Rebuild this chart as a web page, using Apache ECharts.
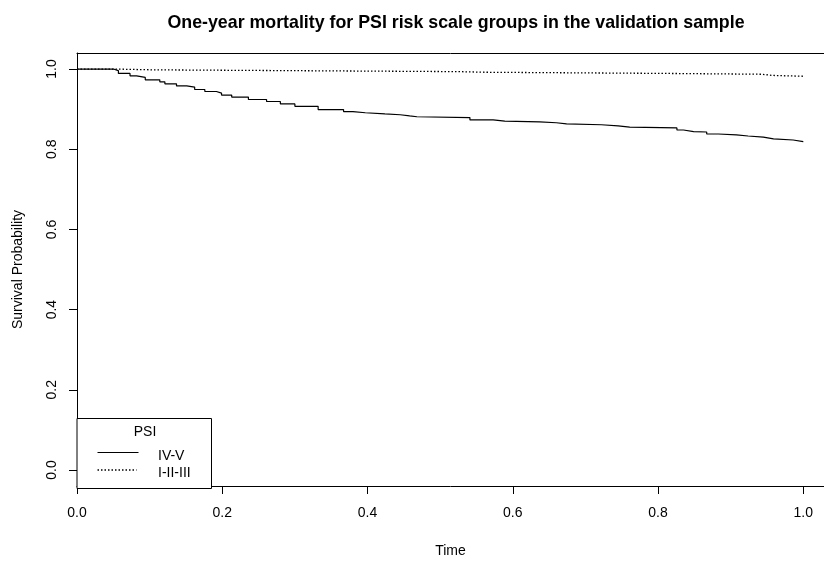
<!DOCTYPE html>
<html>
<head>
<meta charset="utf-8">
<script src="https://cdn.jsdelivr.net/npm/echarts@6/dist/echarts.min.js"></script>
<style>
  html, body { margin: 0; padding: 0; background: #fff; }
  #main { width: 824px; height: 563px; }
</style>
</head>
<body>
<div id="main"></div>
<script>
// Kaplan-Meier steps
var ivTime = [0, 0.050, 0.057, 0.073, 0.082, 0.094, 0.114, 0.121, 0.137, 0.151, 0.162, 0.176, 0.192, 0.199,
  0.213, 0.236, 0.261, 0.280, 0.300, 0.332, 0.367, 0.380, 0.397, 0.424, 0.445, 0.458, 0.468, 0.541,
  0.573, 0.589, 0.637, 0.660, 0.674, 0.722, 0.745, 0.761, 0.826, 0.835, 0.849, 0.867, 0.883, 0.908,
  0.924, 0.945, 0.959, 0.986, 1.0];
var ivSurv = [1.0, 0.996, 0.989, 0.983, 0.979, 0.973, 0.968, 0.963, 0.958, 0.955, 0.949, 0.944, 0.940, 0.935,
  0.930, 0.924, 0.919, 0.913, 0.907, 0.899, 0.894, 0.891, 0.888, 0.886, 0.883, 0.881, 0.879, 0.873,
  0.870, 0.868, 0.866, 0.863, 0.861, 0.858, 0.855, 0.853, 0.848, 0.844, 0.843, 0.838, 0.836, 0.833,
  0.830, 0.826, 0.823, 0.819, 0.819];
var lowTime = [0, 0.050, 0.105, 0.527, 0.562, 0.814, 0.943, 0.958, 1.0];
var lowSurv = [1.0, 0.998, 0.9935, 0.992, 0.989, 0.987, 0.984, 0.982, 0.982];
var tickValues = [0, 0.2, 0.4, 0.6, 0.8, 1.0];

function pairs(t, s) {
  var out = [];
  for (var i = 0; i < t.length; i++) out.push([t[i], s[i]]);
  return out;
}

var font = 'Liberation Sans, Arial, Helvetica, sans-serif';
var chart = echarts.init(document.getElementById('main'));

var option = {
  backgroundColor: '#fff',
  animation: false,
  title: {
    text: 'One-year mortality for PSI risk scale groups in the validation sample',
    left: 451,
    textAlign: 'center',
    top: 9,
    textStyle: { fontFamily: font, fontSize: 17.8, fontWeight: 'bold', color: '#000' }
  },
  // right edge of the box runs off the page, so the grid reaches the edge
  grid: {
    left: 77,
    top: 53,
    width: 747,
    height: 436
  },
  xAxis: [{
    type: 'value',
    min: 0,
    max: 1.0285,
    name: 'Time',
    nameLocation: 'middle',
    nameGap: 58,
    nameTextStyle: { fontFamily: font, fontSize: 14, color: '#000' },
    axisLine: { show: true, onZero: false, lineStyle: { color: '#000', width: 1 } },
    splitLine: { show: false },
    axisTick: { show: true, inside: false, length: 8, customValues: tickValues, lineStyle: { color: '#000' } },
    axisLabel: {
      customValues: tickValues,
      margin: 20,
      fontFamily: font, fontSize: 14, color: '#000',
      formatter: function (v) { return v.toFixed(1); }
    }
  }, {
    type: 'value',
    position: 'top',
    min: 0,
    max: 1.0285,
    axisLine: { show: true, onZero: false, lineStyle: { color: '#000', width: 1 } },
    splitLine: { show: false },
    axisTick: { show: false },
    axisLabel: { show: false }
  }],
  yAxis: {
    type: 'value',
    min: -0.04,
    max: 1.04,
    name: 'Survival Probability',
    nameLocation: 'middle',
    nameGap: 52,
    nameRotate: 90,
    nameTextStyle: { fontFamily: font, fontSize: 14, color: '#000' },
    axisLine: { show: true, onZero: false, lineStyle: { color: '#000', width: 1 } },
    splitLine: { show: false },
    axisTick: { show: true, inside: false, length: 8, customValues: tickValues, lineStyle: { color: '#000' } },
    axisLabel: {
      customValues: tickValues,
      rotate: 90,
      margin: 18,
      fontFamily: font, fontSize: 14, color: '#000',
      formatter: function (v) { return v.toFixed(1); }
    }
  },
  series: [{
    name: 'IV-V',
    type: 'line',
    step: 'end',
    showSymbol: false,
    symbol: 'none',
    lineStyle: { color: '#000', width: 1.2 },
    data: pairs(ivTime, ivSurv)
  }, {
    name: 'I-II-III',
    type: 'line',
    step: 'end',
    showSymbol: false,
    symbol: 'none',
    lineStyle: { color: '#000', width: 1.3, type: [1.5, 2] },
    data: pairs(lowTime, lowSurv)
  }],
  graphic: [{
    type: 'rect',
    shape: { x: 77, y: 418.5, width: 134.5, height: 70 },
    style: { fill: '#fff', stroke: '#000', lineWidth: 1 },
    z: 10
  }, {
    type: 'text',
    x: 145, y: 432,
    style: { text: 'PSI', fontFamily: font, fontSize: 14, fill: '#000', textAlign: 'center', textVerticalAlign: 'middle' },
    z: 11
  }, {
    type: 'line',
    shape: { x1: 97.5, y1: 452.5, x2: 138.5, y2: 452.5 },
    style: { stroke: '#000', lineWidth: 1.2 },
    z: 11
  }, {
    type: 'text',
    x: 158, y: 456,
    style: { text: 'IV-V', fontFamily: font, fontSize: 14, fill: '#000', textAlign: 'left', textVerticalAlign: 'middle' },
    z: 11
  }, {
    type: 'line',
    shape: { x1: 97.5, y1: 470, x2: 136.5, y2: 470 },
    style: { stroke: '#000', lineWidth: 1.3, lineDash: [1.5, 2] },
    z: 11
  }, {
    type: 'text',
    x: 158, y: 473.5,
    style: { text: 'I-II-III', fontFamily: font, fontSize: 14, fill: '#000', textAlign: 'left', textVerticalAlign: 'middle' },
    z: 11
  }]
};

chart.setOption(option);
</script>
</body>
</html>
